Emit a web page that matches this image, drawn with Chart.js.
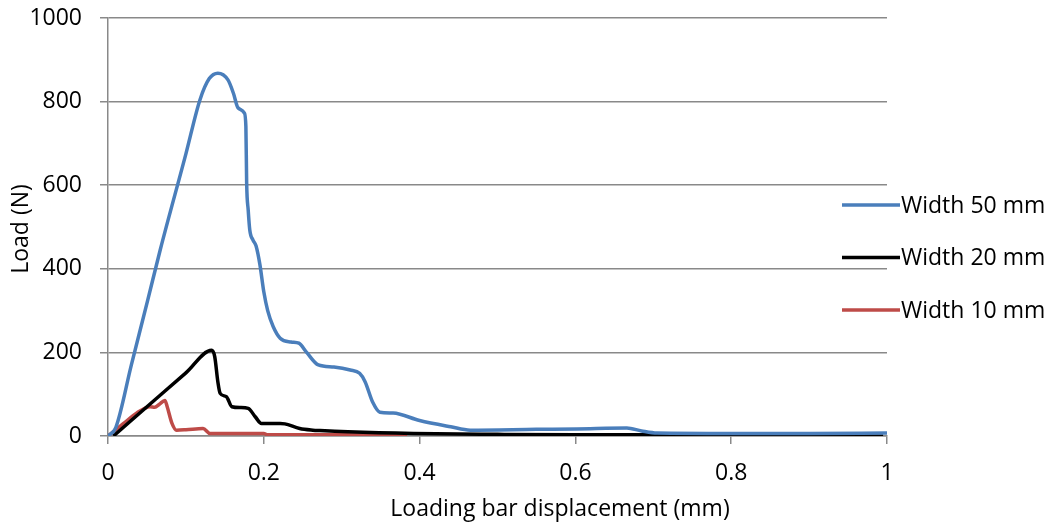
<!DOCTYPE html>
<html>
<head>
    <meta name='viewport' content='width=device-width, initial-scale=1'>
    <title>Load vs displacement</title>
    <style>
        html, body { margin: 0; padding: 0; background: #fff; }
        .chart-box { position: relative; width: 1055px; height: 525px; }
    </style>
</head>
<body>
    <div class="chart-box">
        <canvas id="loadChart"></canvas>
    </div>

    <script src="https://cdn.jsdelivr.net/npm/chart.js"></script>
    <script>
        // values (displacement in mm, load in N)
        const seriesNames = ['Width 50 mm', 'Width 20 mm', 'Width 10 mm'];
        const seriesColors = ['#4a7ebb', '#000000', '#be4b48'];

        const w50X = [0, 0.01, 0.03, 0.051, 0.067, 0.1, 0.118, 0.13, 0.141, 0.154, 0.161, 0.167, 0.175, 0.177, 0.178, 0.18, 0.182, 0.186, 0.19, 0.195, 0.2, 0.205, 0.212, 0.221, 0.235, 0.245, 0.255, 0.27, 0.29, 0.311, 0.323, 0.33, 0.34, 0.349, 0.366, 0.4, 0.44, 0.465, 0.55, 0.602, 0.666, 0.685, 0.705, 0.8, 0.9, 1.0];
        const w50Y = [0, 20, 170, 325, 445, 675, 804, 855, 868, 852, 820, 785, 773, 740, 605, 540, 493, 469, 455, 410, 345, 300, 262, 234, 225, 222, 200, 170, 165, 158, 150, 130, 80, 57, 55, 37, 22, 14, 16, 17, 19, 12, 7, 6, 6, 7];

        const w20X = [0.007, 0.05, 0.1, 0.133, 0.137, 0.141, 0.144, 0.152, 0.159, 0.17, 0.18, 0.189, 0.197, 0.21, 0.221, 0.227, 0.246, 0.263, 0.272, 0.308, 0.392, 0.5, 0.6, 0.7, 0.78, 0.8, 0.9, 0.995];
        const w20Y = [0, 70, 151, 205, 190, 130, 102, 94, 70, 68, 66, 46, 30, 30, 30, 29, 18, 14, 13, 10, 6, 4, 3, 3, 2, 0, 0, 0];

        const w10X = [0, 0.02, 0.037, 0.054, 0.06, 0.066, 0.073, 0.076, 0.082, 0.088, 0.1, 0.122, 0.131, 0.2, 0.204, 0.3, 0.384];
        const w10Y = [0, 30, 55, 70, 69, 76, 85, 70, 31, 14, 15, 18, 6, 6, 3, 3, 2];

        const xTicks = [0, 0.2, 0.4, 0.6, 0.8, 1];
        const yTicks = [0, 200, 400, 600, 800, 1000];
        const xTitle = 'Loading bar displacement (mm)';
        const yTitle = 'Load (N)';

        const FONT = 'Open Sans';
        const FONT_SIZE = 23;

        function toPoints(xs, ys) {
            return xs.map((x, i) => ({ x: x, y: ys[i] }));
        }

        const datasets = [[w50X, w50Y], [w20X, w20Y], [w10X, w10Y]].map((s, i) => ({
            label: seriesNames[i],
            data: toPoints(s[0], s[1]),
            borderColor: seriesColors[i],
            backgroundColor: seriesColors[i],
            borderWidth: 3.5,
            pointRadius: 0,
            cubicInterpolationMode: 'monotone',
            fill: false
        }));

        // axis titles and the legend drawn by hand so they sit where the original has them
        const extras = {
            id: 'extras',
            afterDraw(chart) {
                const ctx = chart.ctx;
                ctx.save();
                ctx.fillStyle = '#000';
                ctx.font = FONT_SIZE + 'px "' + FONT + '"';
                ctx.textBaseline = 'middle';

                ctx.textAlign = 'center';
                ctx.fillText(xTitle, 560, 509);

                ctx.save();
                ctx.translate(21, 229);
                ctx.rotate(-Math.PI / 2);
                ctx.fillText(yTitle, 0, 0);
                ctx.restore();

                ctx.textAlign = 'left';
                chart.data.datasets.forEach((ds, i) => {
                    const y = 205 + i * 52.5;
                    ctx.strokeStyle = ds.borderColor;
                    ctx.lineWidth = 3.5;
                    ctx.beginPath();
                    ctx.moveTo(842, y);
                    ctx.lineTo(900, y);
                    ctx.stroke();
                    ctx.fillText(ds.label, 901, y + 1);
                });
                ctx.restore();
            }
        };

        const ctx = document.getElementById('loadChart').getContext('2d');
        const chart = new Chart(ctx, {
            type: 'line',
            data: { datasets: datasets },
            plugins: [extras],
            options: {
                responsive: true,
                maintainAspectRatio: false,
                animation: false,
                layout: { padding: { top: 18, right: 168, bottom: 0, left: 0 } },
                plugins: {
                    legend: { display: false },
                    tooltip: { enabled: false }
                },
                scales: {
                    x: {
                        type: 'linear',
                        min: 0,
                        max: 1,
                        afterFit(scale) {
                            scale.height = 89;
                            scale.paddingLeft = 0;
                            scale.paddingRight = 0;
                        },
                        afterBuildTicks(scale) { scale.ticks = xTicks.map(v => ({ value: v })); },
                        grid: {
                            drawOnChartArea: false,
                            drawTicks: true,
                            tickLength: 8,
                            color: '#898989',
                            lineWidth: 1.5
                        },
                        border: { display: true, color: '#898989', width: 1.5 },
                        ticks: {
                            color: '#000',
                            padding: 16,
                            maxRotation: 0,
                            font: { family: FONT, size: FONT_SIZE },
                            callback: v => String(Number(v.toFixed(1)))
                        }
                    },
                    y: {
                        min: 0,
                        max: 1000,
                        afterFit(scale) {
                            scale.width = 108;
                            scale.paddingTop = 0;
                            scale.paddingBottom = 0;
                        },
                        afterBuildTicks(scale) { scale.ticks = yTicks.map(v => ({ value: v })); },
                        grid: {
                            color: '#898989',
                            lineWidth: 1.5,
                            drawTicks: true,
                            tickLength: 8
                        },
                        border: { display: true, color: '#898989', width: 1.5 },
                        ticks: {
                            color: '#000',
                            padding: 18,
                            font: { family: FONT, size: FONT_SIZE },
                            callback: v => String(v)
                        }
                    }
                }
            }
        });
    </script>
</body>
</html>
